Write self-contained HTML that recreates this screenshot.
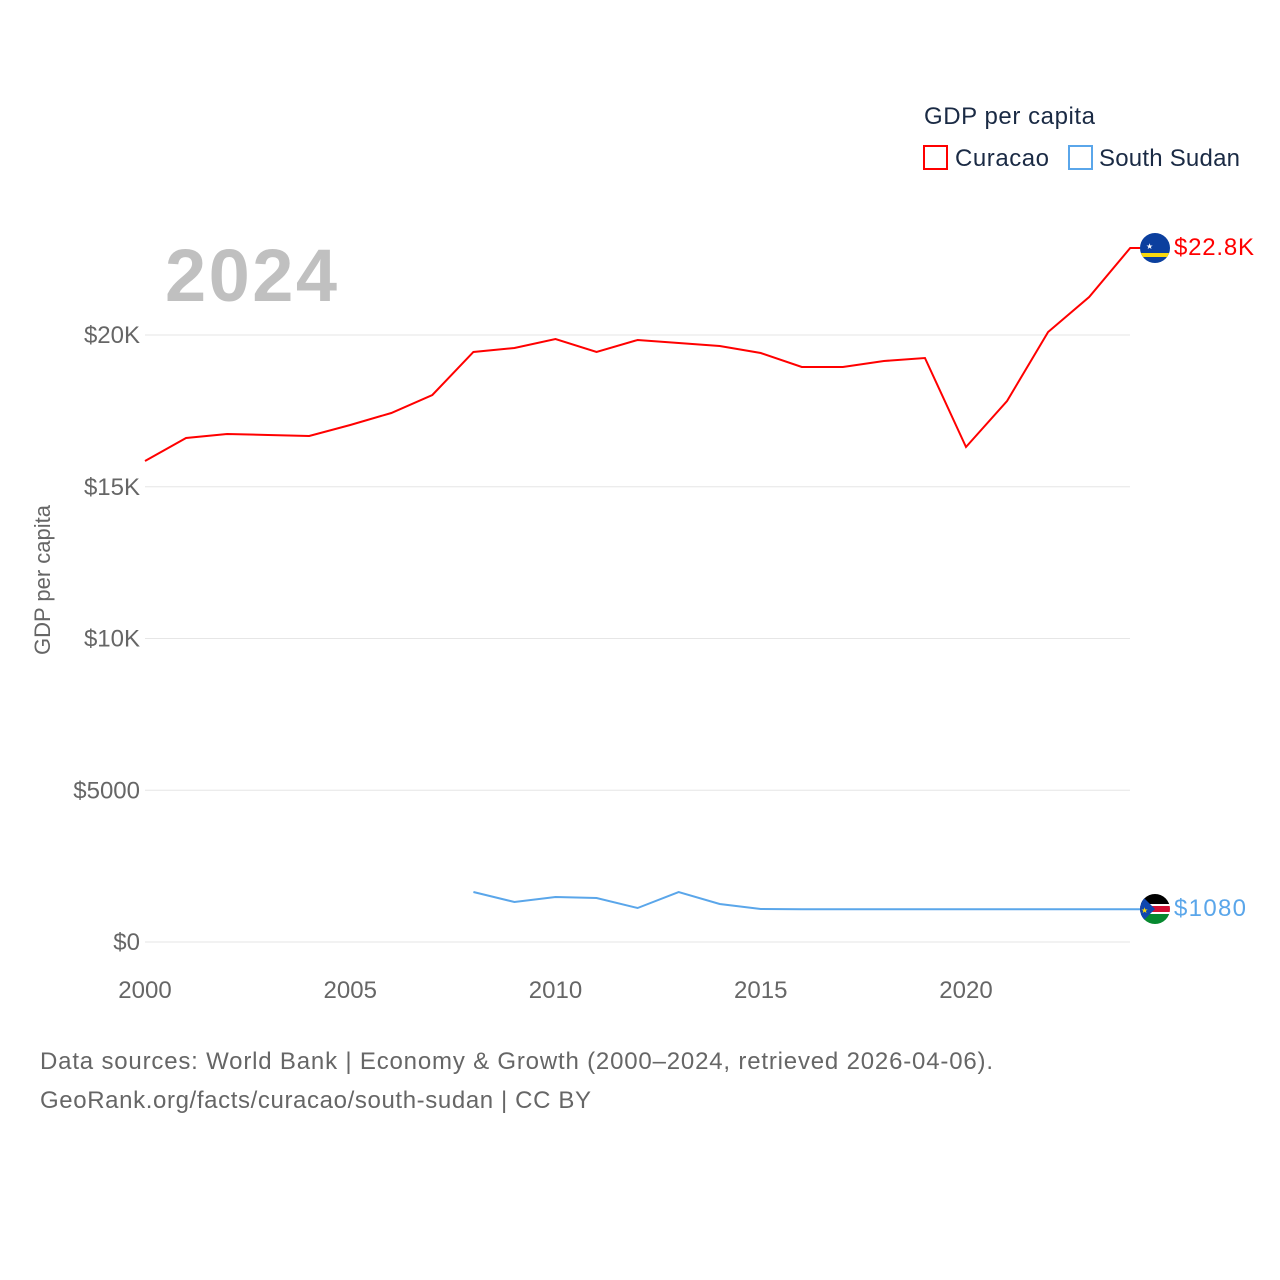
<!DOCTYPE html>
<html><head><meta charset="utf-8"><style>
html,body{margin:0;padding:0;background:#fff;}
svg{display:block;font-family:"Liberation Sans",sans-serif;}
</style></head><body>
<svg id="chart" width="1280" height="1280" viewBox="0 0 1280 1280">
<g>
<text x="924" y="124" font-size="24" fill="#1a2a44" textLength="171">GDP per capita</text>
<rect x="924" y="146" width="23" height="23" fill="none" stroke="#f00" stroke-width="2"/>
<text x="955" y="166" font-size="24" fill="#1a2a44" textLength="94">Curacao</text>
<rect x="1069" y="146" width="23" height="23" fill="none" stroke="#5aa6ea" stroke-width="2"/>
<text x="1099" y="166" font-size="24" fill="#1a2a44" textLength="141">South Sudan</text>
</g>
<text x="165" y="301" font-size="74" font-weight="bold" fill="#c0c0c0" textLength="172">2024</text>
<text transform="translate(50,580) rotate(-90)" text-anchor="middle" font-size="22" fill="#666">GDP per capita</text>
<g id="grid"></g><g id="yt"></g><g id="xt"></g><g id="series"></g>
<defs>
<clipPath id="c1"><circle cx="1155" cy="248" r="15"/></clipPath>
<clipPath id="c2"><circle cx="1155" cy="909" r="15"/></clipPath>
</defs>
<g clip-path="url(#c1)">
<rect x="1140" y="233" width="30" height="30" fill="#0b3f9e"/>
<rect x="1140" y="253" width="30" height="4" fill="#f9d90f"/>
<text x="1146" y="249" font-size="8" fill="#fff">★</text>
</g>
<g clip-path="url(#c2)">
<rect x="1140" y="894" width="30" height="10" fill="#000"/>
<rect x="1140" y="904" width="30" height="10" fill="#fff"/>
<rect x="1140" y="906" width="30" height="6" fill="#d21034"/>
<rect x="1140" y="914" width="30" height="10" fill="#078930"/>
<polygon points="1140,894 1155,909 1140,924" fill="#0f47af"/>
<text x="1141" y="913" font-size="8" fill="#fcdd09">★</text>
</g>
<text x="1174" y="255" font-size="24" fill="#f00" textLength="80">$22.8K</text>
<text x="1174" y="916" font-size="24" fill="#5aa6ea" textLength="72">$1080</text>
<text x="40" y="1069" font-size="24" fill="#666" textLength="953">Data sources: World Bank | Economy &amp; Growth (2000–2024, retrieved 2026-04-06).</text>
<text x="40" y="1108" font-size="24" fill="#666" textLength="551">GeoRank.org/facts/curacao/south-sudan | CC BY</text>
</svg>
<script>
const years=[2000,2001,2002,2003,2004,2005,2006,2007,2008,2009,2010,2011,2012,2013,2014,2015,2016,2017,2018,2019,2020,2021,2022,2023,2024];
const curacao=[15848,16606,16738,16705,16672,17035,17430,18023,19440,19572,19868,19440,19835,19736,19638,19407,18946,18946,19143,19242,16310,17825,20099,21252,22866];
const ssYears=[2008,2009,2010,2011,2012,2013,2014,2015,2016,2017,2018,2019,2020,2021,2022,2023,2024];
const southSudan=[1647,1318,1483,1450,1120,1647,1252,1087,1080,1080,1080,1080,1080,1080,1080,1080,1080];
const yTicks=[0,5000,10000,15000,20000];
const yTickLabels=["$0","$5000","$10K","$15K","$20K"];
const xTicks=[2000,2005,2010,2015,2020];
const NS="http://www.w3.org/2000/svg";
const xS=y=>145+(y-2000)*41.05;
const yS=v=>942-v*(607/20000);
function mk(t,a,p){const e=document.createElementNS(NS,t);for(const k in a)e.setAttribute(k,a[k]);p.appendChild(e);return e;}
const grid=document.getElementById('grid'),yt=document.getElementById('yt'),xt=document.getElementById('xt'),ser=document.getElementById('series');
yTicks.forEach((v,i)=>{
 const l=mk('line',{x1:145,x2:1130,y1:yS(v),y2:yS(v),stroke:'#e6e6e6','stroke-width':1},grid);
 
 
 const t=mk('text',{x:140,y:yS(v)+8,'text-anchor':'end','font-size':24,fill:'#666'},yt);
 t.textContent=yTickLabels[i];
 
 
});
xTicks.forEach(v=>{
 const t=mk('text',{x:xS(v),y:998,'text-anchor':'middle','font-size':24,fill:'#666'},xt);
 t.textContent=v;
 
 
});
let d=years.map((y,i)=>(i?'L':'M')+xS(y)+','+yS(curacao[i])).join(' ')+' L'+(xS(2024)+10)+','+yS(curacao[curacao.length-1]);
const p1=mk('path',{d:d,fill:'none',stroke:'#f00','stroke-width':2},ser);


let d2=ssYears.map((y,i)=>(i?'L':'M')+xS(y)+','+yS(southSudan[i])).join(' ')+' L'+(xS(2024)+10)+','+yS(southSudan[southSudan.length-1]);
const p2=mk('path',{d:d2,fill:'none',stroke:'#5aa6ea','stroke-width':2},ser);


</script>
</body></html>
